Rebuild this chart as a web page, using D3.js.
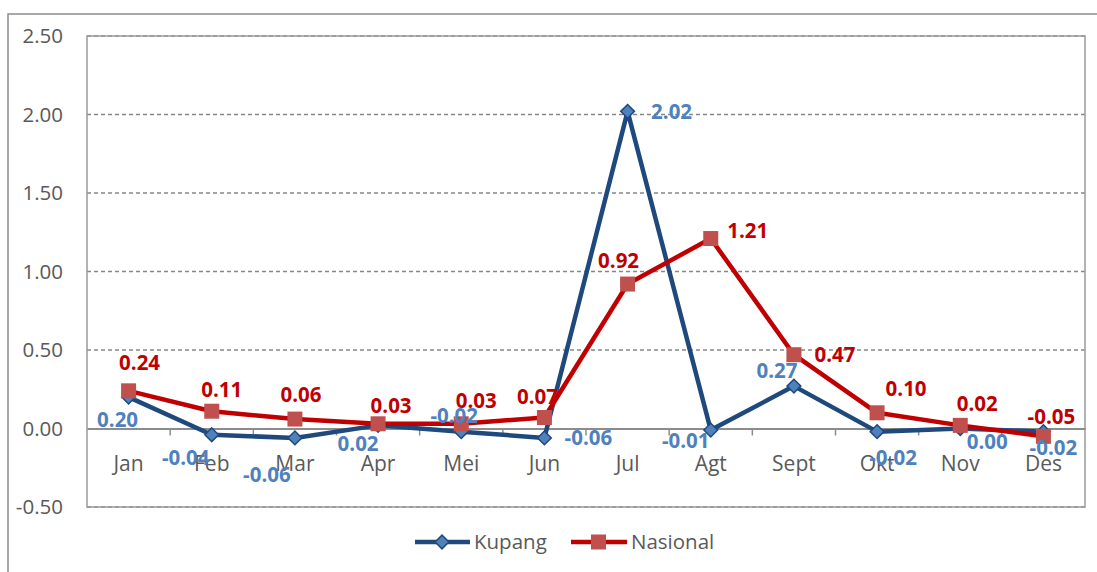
<!DOCTYPE html>
<html>
<head>
<meta charset="utf-8">
<script src="https://cdn.jsdelivr.net/npm/d3@7"></script>
<style>
  body { margin: 0; background: #fff; }
  svg text { font-family: "Open Sans", "Noto Sans", sans-serif; }
</style>
</head>
<body>
<div class="chart"></div>
<script>
var months = ["Jan", "Feb", "Mar", "Apr", "Mei", "Jun", "Jul", "Agt", "Sept", "Okt", "Nov", "Des"];
var kupang = [0.20, -0.04, -0.06, 0.02, -0.02, -0.06, 2.02, -0.01, 0.27, -0.02, 0.00, -0.02];
var nasional = [0.24, 0.11, 0.06, 0.03, 0.03, 0.07, 0.92, 1.21, 0.47, 0.10, 0.02, -0.05];
var yTicks = [-0.5, 0, 0.5, 1, 1.5, 2, 2.5];

// label offsets from the point (label centre), like Excel placed them
var kupangLabelOffset = [[-11, 23], [-26, 23], [-28, 37], [-20, 18], [-7, -16], [44, 0],
  [44, 0], [-25, 11], [-17, -15], [16, 26], [27, 13], [10, 16]];
var nasionalLabelOffset = [[11, -28], [10, -22], [6, -24], [13, -18], [15, -23], [-7, -21],
  [-9, -23], [37, -8], [41, 0], [29, -24], [17, -22], [8, -20]];

var svgWidth = 1097;
var svgHeight = 572;

var margin = { top: 36, left: 87, right: 12, bottom: 65 };
var width = svgWidth - margin.left - margin.right;
var height = svgHeight - margin.top - margin.bottom;

// hyphen minus, like the original
var fmt = d3.formatLocale({ decimal: ".", thousands: ",", grouping: [3], currency: ["", ""], minus: "-" }).format(".2f");

var svg = d3.select(".chart")
  .append("svg")
  .attr("width", svgWidth)
  .attr("height", svgHeight);

// outer chart border
svg.append("rect")
  .attr("x", 8)
  .attr("y", 14)
  .attr("width", 1200)
  .attr("height", 700)
  .attr("fill", "none")
  .attr("stroke", "#8c8c8c")
  .attr("stroke-width", 1.5);

var chartGroup = svg.append("g")
  .attr("transform", `translate(${margin.left}, ${margin.top})`);

var x = d3.scaleBand()
  .domain(months)
  .range([0, width]);

var y = d3.scaleLinear()
  .domain([-0.5, 2.5])
  .range([height, 0]);

// gridlines
chartGroup.selectAll(".grid")
  .data(yTicks.filter(d => d !== 0))
  .enter()
  .append("line")
  .attr("x1", 0)
  .attr("x2", width)
  .attr("y1", d => y(d))
  .attr("y2", d => y(d))
  .attr("stroke", "#868686")
  .attr("stroke-width", 1.3)
  .attr("stroke-dasharray", "4,3");

// plot area border
chartGroup.append("rect")
  .attr("x", 0)
  .attr("y", 0)
  .attr("width", width)
  .attr("height", height)
  .attr("fill", "none")
  .attr("stroke", "#9a9a9a")
  .attr("stroke-width", 1.5);

// y axis labels
chartGroup.selectAll(".ylab")
  .data(yTicks)
  .enter()
  .append("text")
  .attr("x", -24)
  .attr("y", d => y(d))
  .attr("dy", "0.36em")
  .attr("text-anchor", "end")
  .attr("font-size", 20.5)
  .attr("fill", "#595959")
  .text(d => fmt(d));

// zero axis with tick marks between categories
var xAxis = d3.axisBottom(x).tickSize(0).tickFormat("");
chartGroup.append("g")
  .attr("transform", `translate(0, ${y(0)})`)
  .call(xAxis)
  .call(g => g.select(".domain").attr("stroke", "#8c8c8c").attr("stroke-width", 2));

chartGroup.selectAll(".xtick")
  .data(d3.range(1, months.length))
  .enter()
  .append("line")
  .attr("x1", d => d * x.bandwidth())
  .attr("x2", d => d * x.bandwidth())
  .attr("y1", y(0))
  .attr("y2", y(0) + 7)
  .attr("stroke", "#8c8c8c")
  .attr("stroke-width", 1.5);

// category labels
chartGroup.selectAll(".xlab")
  .data(months)
  .enter()
  .append("text")
  .attr("x", d => x(d) + x.bandwidth() / 2)
  .attr("y", y(0) + 35)
  .attr("dy", "0.36em")
  .attr("text-anchor", "middle")
  .attr("font-size", 21)
  .attr("fill", "#595959")
  .text(d => d);

var cx = (d, i) => x(months[i]) + x.bandwidth() / 2;

var line = d3.line()
  .x((d, i) => cx(d, i))
  .y(d => y(d));

var diamond = d3.symbol().type(d3.symbolDiamond2).size(120);

// Kupang line
chartGroup.append("path")
  .datum(kupang)
  .attr("d", line)
  .attr("fill", "none")
  .attr("stroke", "#1f497d")
  .attr("stroke-width", 4.5)
  .attr("stroke-linejoin", "round");

chartGroup.selectAll(".kdot")
  .data(kupang)
  .enter()
  .append("path")
  .attr("d", diamond)
  .attr("transform", (d, i) => `translate(${cx(d, i)}, ${y(d)})`)
  .attr("fill", "#4f81bd")
  .attr("stroke", "#1f497d")
  .attr("stroke-width", 1.5);

// Nasional line
chartGroup.append("path")
  .datum(nasional)
  .attr("d", line)
  .attr("fill", "none")
  .attr("stroke", "#c00000")
  .attr("stroke-width", 4.5)
  .attr("stroke-linejoin", "round");

chartGroup.selectAll(".ndot")
  .data(nasional)
  .enter()
  .append("rect")
  .attr("x", (d, i) => cx(d, i) - 7.5)
  .attr("y", d => y(d) - 7.5)
  .attr("width", 15)
  .attr("height", 15)
  .attr("fill", "#c0504d");

// data labels
chartGroup.selectAll(".klab")
  .data(kupang)
  .enter()
  .append("text")
  .attr("x", (d, i) => cx(d, i) + kupangLabelOffset[i][0])
  .attr("y", (d, i) => y(d) + kupangLabelOffset[i][1])
  .attr("dy", "0.36em")
  .attr("text-anchor", "middle")
  .attr("font-size", 20.5)
  .attr("font-weight", "bold")
  .attr("fill", "#4f81bd")
  .text(d => fmt(d));

chartGroup.selectAll(".nlab")
  .data(nasional)
  .enter()
  .append("text")
  .attr("x", (d, i) => cx(d, i) + nasionalLabelOffset[i][0])
  .attr("y", (d, i) => y(d) + nasionalLabelOffset[i][1])
  .attr("dy", "0.36em")
  .attr("text-anchor", "middle")
  .attr("font-size", 20.5)
  .attr("font-weight", "bold")
  .attr("fill", "#c00000")
  .text(d => fmt(d));

// legend
var legend = svg.append("g")
  .attr("transform", "translate(0, 542)");

legend.append("line")
  .attr("x1", 415).attr("x2", 470)
  .attr("stroke", "#1f497d").attr("stroke-width", 4.5);
legend.append("path")
  .attr("d", diamond)
  .attr("transform", "translate(442, 0)")
  .attr("fill", "#4f81bd")
  .attr("stroke", "#1f497d")
  .attr("stroke-width", 1.5);
legend.append("text")
  .attr("x", 474).attr("dy", "0.36em")
  .attr("font-size", 20.5).attr("fill", "#595959")
  .text("Kupang");

legend.append("line")
  .attr("x1", 571).attr("x2", 627)
  .attr("stroke", "#c00000").attr("stroke-width", 4.5);
legend.append("rect")
  .attr("x", 591).attr("y", -7.5)
  .attr("width", 15).attr("height", 15)
  .attr("fill", "#c0504d");
legend.append("text")
  .attr("x", 631).attr("dy", "0.36em")
  .attr("font-size", 20.5).attr("fill", "#595959")
  .text("Nasional");
</script>
</body>
</html>
